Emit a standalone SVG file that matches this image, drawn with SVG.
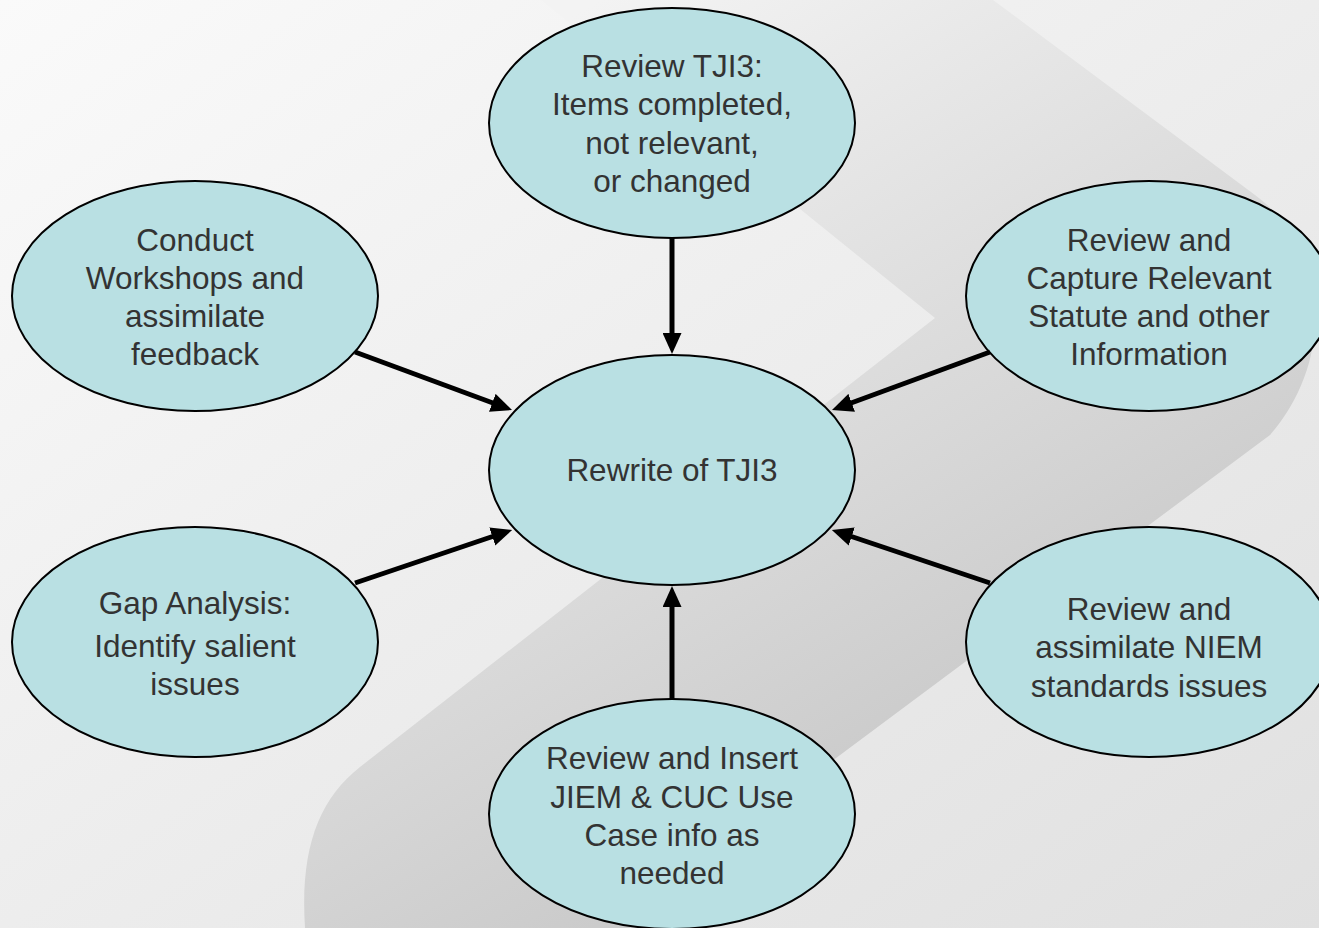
<svg xmlns="http://www.w3.org/2000/svg" width="1319" height="928" viewBox="0 0 1319 928">
  <defs>
    <linearGradient id="bg" x1="0" y1="0" x2="1" y2="1">
      <stop offset="0" stop-color="#fafafa"/>
      <stop offset="1" stop-color="#e0e0e0"/>
    </linearGradient>
    <linearGradient id="band" gradientUnits="userSpaceOnUse" x1="600" y1="0" x2="1050" y2="780">
      <stop offset="0" stop-color="#f3f3f3"/>
      <stop offset="1" stop-color="#c6c6c6"/>
    </linearGradient>
    <marker id="arrow" markerUnits="userSpaceOnUse" markerWidth="21" markerHeight="19" viewBox="0 0 21 19" refX="5" refY="9.5" orient="auto">
      <path d="M0,0 L21,9.5 L0,19 Z" fill="#000"/>
    </marker>
    <style>
      .node ellipse { fill: #b9e0e3; stroke: #000; stroke-width: 2; }
      .node text { font-family: "Liberation Sans", Arial, sans-serif; font-size: 31.5px; fill: #333333; text-anchor: middle; }
      .conn line { stroke: #000; stroke-width: 5; marker-end: url(#arrow); }
    </style>
  </defs>

  <g id="background">
    <rect x="0" y="0" width="1319" height="928" fill="url(#bg)"/>
    <path d="M541,0 L993,0 L1255,195 C1330,250 1335,360 1270,435 L820,770 L660,928 L305,928 C300,850 318,800 360,767 L935,318 Z" fill="url(#band)"/>
  </g>

  <g id="node-top" class="node">
    <ellipse cx="672" cy="123" rx="183" ry="115"/>
    <text x="672" y="77">Review TJI3:</text>
    <text x="672" y="115">Items completed,</text>
    <text x="672" y="154">not relevant,</text>
    <text x="672" y="192">or changed</text>
  </g>

  <g id="node-conduct" class="node">
    <ellipse cx="195" cy="296" rx="183" ry="115"/>
    <text x="195" y="251">Conduct</text>
    <text x="195" y="289">Workshops and</text>
    <text x="195" y="327">assimilate</text>
    <text x="195" y="365">feedback</text>
  </g>

  <g id="node-capture" class="node">
    <ellipse cx="1149" cy="296" rx="183" ry="115"/>
    <text x="1149" y="251">Review and</text>
    <text x="1149" y="289">Capture Relevant</text>
    <text x="1149" y="327">Statute and other</text>
    <text x="1149" y="365">Information</text>
  </g>

  <g id="node-center" class="node">
    <ellipse cx="672" cy="470" rx="183" ry="115"/>
    <text x="672" y="481">Rewrite of TJI3</text>
  </g>

  <g id="node-gap" class="node">
    <ellipse cx="195" cy="642" rx="183" ry="115"/>
    <text x="195" y="614">Gap Analysis:</text>
    <text x="195" y="657">Identify salient</text>
    <text x="195" y="695">issues</text>
  </g>

  <g id="node-niem" class="node">
    <ellipse cx="1149" cy="642" rx="183" ry="115"/>
    <text x="1149" y="620">Review and</text>
    <text x="1149" y="658">assimilate NIEM</text>
    <text x="1149" y="697">standards issues</text>
  </g>

  <g id="node-bottom" class="node">
    <ellipse cx="672" cy="814" rx="183" ry="115"/>
    <text x="672" y="769">Review and Insert</text>
    <text x="672" y="808">JIEM &amp; CUC Use</text>
    <text x="672" y="846">Case info as</text>
    <text x="672" y="884">needed</text>
  </g>

  <g id="connectors" class="conn">
    <line x1="672" y1="238" x2="672" y2="338"/>
    <line x1="672" y1="699" x2="672" y2="602"/>
    <line x1="355" y1="352" x2="497" y2="404.5"/>
    <line x1="990" y1="352" x2="847" y2="404.5"/>
    <line x1="355" y1="583" x2="497" y2="535"/>
    <line x1="990" y1="583" x2="847" y2="535"/>
  </g>
</svg>
